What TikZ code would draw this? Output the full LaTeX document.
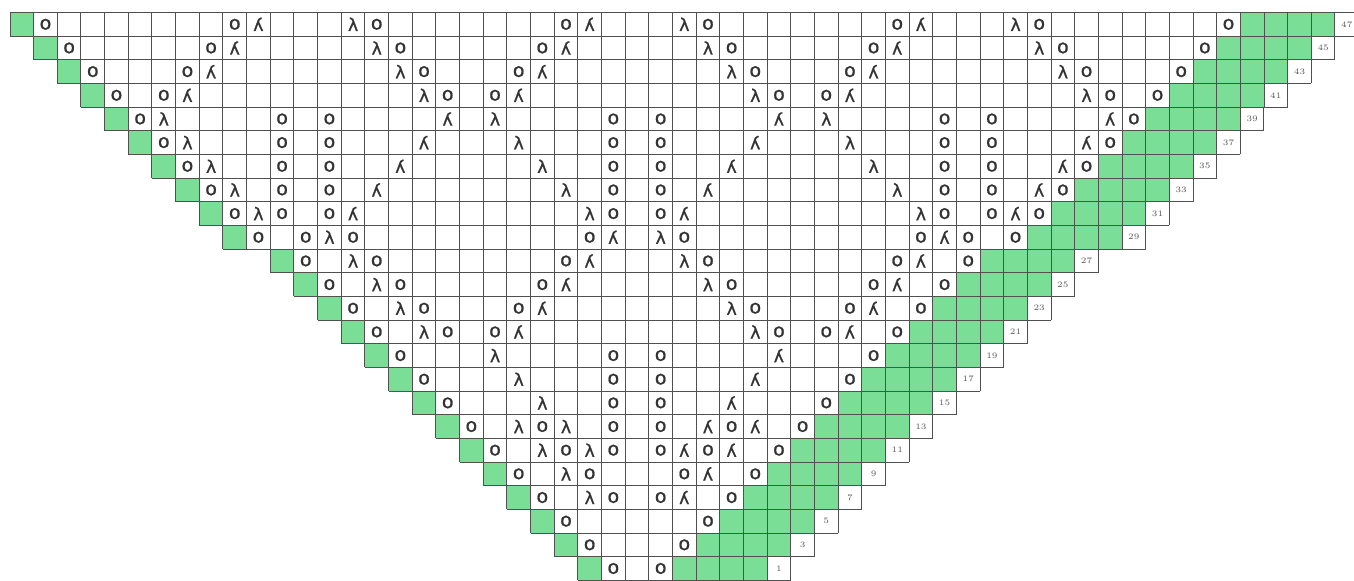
\documentclass[tikz,border=0pt]{standalone}
\usepackage{fontspec}
\usepackage{graphicx}
\newfontfamily\symfont[FakeBold=0.9]{DejaVu Sans}
\definecolor{chartgreen}{RGB}{122,222,150}
\definecolor{gridcol}{RGB}{80,80,80}
\newcommand{\knitsymo}{\fontsize{11.5}{11.5}\selectfont o}
\newcommand{\knitsyml}{λ}
\newcommand{\knitsymr}{\scalebox{-1}[1]{λ}}
\tikzset{
  gridlines/.style={draw=gridcol, line width=0.6pt},
  greenfill/.style={fill=chartgreen},
  knitsym/.style={font=\symfont\fontsize{10.5}{10.5}\selectfont, inner sep=0pt, text=black!80},
  rowlabel/.style={font=\fontsize{5}{6}\selectfont, text=black!65, inner sep=0pt},
}
\newcommand{\chartrow}[2]{%
  \pgfmathtruncatemacro{\LL}{#1<=9 ? #1 : #1+1}%
  \pgfmathtruncatemacro{\RR}{55-\LL}%
  \pgfmathtruncatemacro{\GG}{\RR-3}%
  \pgfmathtruncatemacro{\NN}{47-2*#1}%
  \pgfmathtruncatemacro{\LB}{\RR+1}%
  \pgfmathtruncatemacro{\LE}{\RR+2}%
  \fill[greenfill] (\LL,-#1) rectangle ++(1,-1);
  \fill[greenfill] (\GG,-#1) rectangle (\LB,-#1-1);
  \draw[gridlines, step=1] (\LL,-#1) grid (\LE,-#1-1);
  \foreach \c/\t in {#2}{%
    \node[knitsym] (s-#1-\c) at (\c+0.5,-#1-0.5) {\csname knitsym\t\endcsname};
  }%
  \node[rowlabel] (lab-\NN) at (\LB+0.5,-#1-0.5) {\NN};
}
\begin{document}
\begin{tikzpicture}[x=0.5cm,y=0.5cm]
\useasboundingbox (0,0) rectangle (57.227,-24.514);
\clip (0,0) rectangle (57.227,-24.514);
\fill[white] (0,0) rectangle (57.227,-24.514);
\begin{scope}[shift={(0.423,-0.528)}]
\chartrow{0}{1/o,9/o,10/r,14/l,15/o,23/o,24/r,28/l,29/o,37/o,38/r,42/l,43/o,51/o}
\chartrow{1}{2/o,8/o,9/r,15/l,16/o,22/o,23/r,29/l,30/o,36/o,37/r,43/l,44/o,50/o}
\chartrow{2}{3/o,7/o,8/r,16/l,17/o,21/o,22/r,30/l,31/o,35/o,36/r,44/l,45/o,49/o}
\chartrow{3}{4/o,6/o,7/r,17/l,18/o,20/o,21/r,31/l,32/o,34/o,35/r,45/l,46/o,48/o}
\chartrow{4}{5/o,6/l,11/o,13/o,18/r,20/l,25/o,27/o,32/r,34/l,39/o,41/o,46/r,47/o}
\chartrow{5}{6/o,7/l,11/o,13/o,17/r,21/l,25/o,27/o,31/r,35/l,39/o,41/o,45/r,46/o}
\chartrow{6}{7/o,8/l,11/o,13/o,16/r,22/l,25/o,27/o,30/r,36/l,39/o,41/o,44/r,45/o}
\chartrow{7}{8/o,9/l,11/o,13/o,15/r,23/l,25/o,27/o,29/r,37/l,39/o,41/o,43/r,44/o}
\chartrow{8}{9/o,10/l,11/o,13/o,14/r,24/l,25/o,27/o,28/r,38/l,39/o,41/o,42/r,43/o}
\chartrow{9}{10/o,12/o,13/l,14/o,24/o,25/r,27/l,28/o,38/o,39/r,40/o,42/o}
\chartrow{10}{12/o,14/l,15/o,23/o,24/r,28/l,29/o,37/o,38/r,40/o}
\chartrow{11}{13/o,15/l,16/o,22/o,23/r,29/l,30/o,36/o,37/r,39/o}
\chartrow{12}{14/o,16/l,17/o,21/o,22/r,30/l,31/o,35/o,36/r,38/o}
\chartrow{13}{15/o,17/l,18/o,20/o,21/r,31/l,32/o,34/o,35/r,37/o}
\chartrow{14}{16/o,20/l,25/o,27/o,32/r,36/o}
\chartrow{15}{17/o,21/l,25/o,27/o,31/r,35/o}
\chartrow{16}{18/o,22/l,25/o,27/o,30/r,34/o}
\chartrow{17}{19/o,21/l,22/o,23/l,25/o,27/o,29/r,30/o,31/r,33/o}
\chartrow{18}{20/o,22/l,23/o,24/l,25/o,27/o,28/r,29/o,30/r,32/o}
\chartrow{19}{21/o,23/l,24/o,28/o,29/r,31/o}
\chartrow{20}{22/o,24/l,25/o,27/o,28/r,30/o}
\chartrow{21}{23/o,29/o}
\chartrow{22}{24/o,28/o}
\chartrow{23}{25/o,27/o}
\end{scope}
\end{tikzpicture}
\end{document}
